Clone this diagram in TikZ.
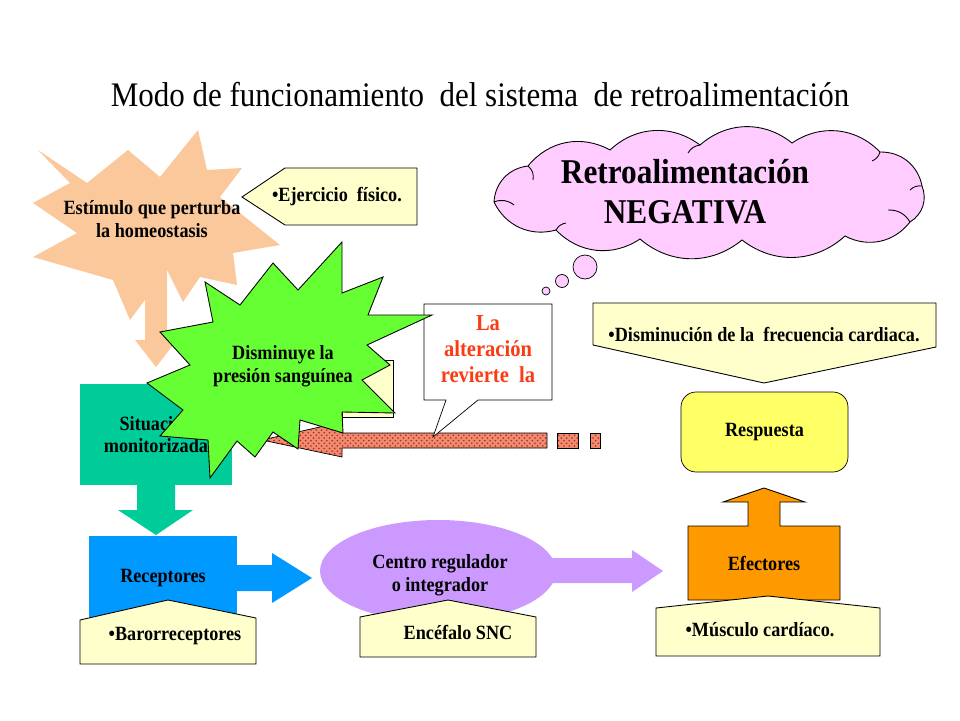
\documentclass[tikz,border=0pt]{standalone}
\usepackage{fontspec}
\setmainfont{Liberation Serif}[FakeStretch=0.9]
\usepackage{tikz}
\usetikzlibrary{positioning}
\usetikzlibrary{shapes.geometric}
\usetikzlibrary{patterns}

\definecolor{peach}{RGB}{250,200,155}
\definecolor{paleyellow}{RGB}{255,255,204}
\definecolor{monitteal}{RGB}{0,204,153}
\definecolor{recblue}{RGB}{0,153,255}
\definecolor{centrolila}{RGB}{204,153,255}
\definecolor{efecorange}{RGB}{255,153,0}
\definecolor{respyellow}{RGB}{255,255,102}
\definecolor{bumpgreen}{RGB}{102,255,51}
\definecolor{cloudpink}{RGB}{255,204,255}
\definecolor{alertred}{RGB}{250,60,20}
\definecolor{dotred}{RGB}{195,35,10}
\definecolor{dotbg}{RGB}{235,140,115}

\begin{document}
\begin{tikzpicture}[x=0.02cm, y=-0.02cm,
    smalltxt/.style={font=\fontsize{11.5}{13}\selectfont\bfseries, align=center, inner sep=0pt},
    infobox/.style={draw, fill=paleyellow, line width=0.5pt},
    dotted arrow/.style={draw, preaction={fill=dotbg}, pattern=crosshatch dots, pattern color=dotred},
    puff/.style={bend left=40},
    block/.style={inner sep=0pt, align=center, font=\fontsize{11.5}{13}\selectfont\bfseries}]

    \useasboundingbox[fill=white] (0,0) rectangle (960,720);

    \node[font=\fontsize{19.6}{22}\selectfont] (titulo) at (480,95)
        {Modo de funcionamiento\ \ del sistema\ \ de retroalimentación};

    % nube
    \draw[fill=cloudpink, line width=0.5pt] (494,202) to[puff] (528,166) to[puff] (610,150)
        to[puff] (700,145) to[puff] (792,143) to[puff] (880,152) to[puff] (922,186)
        to[puff] (910,222) to[puff] (845,236) to[puff] (742,240) to[puff] (640,239)
        to[puff] (556,230) to[puff] (494,202);
    \draw[line width=0.5pt] (528,166) to[bend left=30] (533,180);
    \draw[line width=0.5pt] (494,202) to[bend left=30] (514,205);
    \draw[line width=0.5pt] (556,230) to[bend left=25] (566,223);
    \draw[line width=0.5pt] (910,222) to[bend right=30] (888,210);
    \draw[line width=0.5pt] (922,186) to[bend right=25] (910,190);
    \draw[line width=0.5pt] (880,152) to[bend left=25] (872,161);
    \draw[line width=0.5pt] (700,145) to[bend right=25] (688,153);
    \node[font=\fontsize{19.8}{22.7}\selectfont\bfseries, align=center] (negativa)
        at (685,192) {Retroalimentación\\NEGATIVA};
    \draw[fill=cloudpink] (585,267) circle (12);
    \draw[fill=cloudpink] (562,281) circle (6.5);
    \draw[fill=cloudpink] (546,291) circle (4);

    % estimulo
    \fill[peach] (38,150) -- (87,183) -- (128,150) -- (160,177) -- (198,130) -- (207,170)
        -- (242,168) -- (220,197) -- (280,245) -- (233,253) -- (237,285) -- (200,277)
        -- (183,302) -- (167,270) -- (130,320) -- (113,280) -- (33,257) -- (77,233)
        -- (33,203) -- (70,183) -- cycle;
    \fill[peach] (145,255) -- (167,255) -- (167,340) -- (177,340) -- (156,367)
        -- (135,340) -- (145,340) -- cycle;
    \node[smalltxt] (estimulo) at (152,219) {Estímulo que perturba\\la homeostasis};

    \draw[infobox] (242,197) -- (285,168) -- (417,168) -- (417,225) -- (285,225) -- cycle;
    \node[smalltxt] (ejercicio) at (337,197) {•Ejercicio\ \ físico.};

    % situacion y receptores
    \node[block, fill=monitteal, minimum width=3.04cm, minimum height=2.02cm]
        (situacion) at (156,434.5) {Situación\\monitorizada};
    \fill[monitteal] (137,485) -- (175,485) -- (175,510) -- (193,510) -- (156,535)
        -- (118,510) -- (137,510) -- cycle;

    \node[block, fill=recblue, minimum width=2.96cm, minimum height=1.68cm]
        (receptores) at (163,578) {Receptores};
    \fill[recblue] (237,565) -- (272,565) -- (272,553) -- (312,578) -- (272,603)
        -- (272,591) -- (237,591) -- cycle;
    \draw[infobox] (80,620) -- (168,600) -- (256,618) -- (256,664) -- (80,664) -- cycle;
    \node[smalltxt] (baro) at (175,636) {•Barorreceptores};

    % centro regulador
    \fill[centrolila] (540,558) -- (632,558) -- (632,550) -- (663,571) -- (632,592)
        -- (632,583) -- (540,583) -- cycle;
    \node[ellipse, fill=centrolila, minimum width=4.72cm, minimum height=2.04cm,
        block] (centro) at (438,571) {};
    \node[smalltxt] (centrotxt) at (440,575) {Centro regulador\\o integrador};
    \draw[infobox] (360,617) -- (448,600) -- (536,617) -- (536,657) -- (360,657) -- cycle;
    \node[smalltxt] (snc) at (458,632) {Encéfalo SNC};

    % efectores y respuesta
    \draw[fill=efecorange, line width=0.5pt] (688,600) -- (688,526) -- (748,526) -- (748,502)
        -- (723,502) -- (764,488) -- (805,502) -- (780,502) -- (780,526) -- (840,526)
        -- (840,600) -- cycle;
    \node[smalltxt] (efectores) at (764,563) {Efectores};
    \draw[infobox] (656,608) -- (768,596) -- (880,608) -- (880,656) -- (656,656) -- cycle;
    \node[smalltxt] (musculo) at (760,630) {•Músculo cardíaco.};

    \node[block, draw, fill=respyellow, rounded corners=0.3cm, minimum width=3.34cm,
        minimum height=1.6cm] (respuesta) at (764.5,432) {Respuesta};
    \draw[infobox] (593,303) -- (936,303) -- (936,347) -- (764,383) -- (593,345) -- cycle;
    \node[smalltxt] (disminucion) at (764,335) {•Disminución de la\ \ frecuencia cardiaca.};

    % flecha de vuelta
    \draw[infobox] (342,360) rectangle (393,417);
    \path[dotted arrow] (262,440) -- (342,422) -- (342,433) -- (547,433) -- (547,448)
        -- (342,448) -- (342,457) -- cycle;
    \path[dotted arrow] (557,433) rectangle (578,448);
    \path[dotted arrow] (590,433) rectangle (600,448);

    \draw[fill=white] (424,304) -- (552,304) -- (552,400) -- (478,400) -- (433,437)
        -- (446,400) -- (424,400) -- cycle;
    \node[font=\fontsize{13}{14.7}\selectfont\bfseries, text=alertred, align=center]
        (alteracion) at (488,349) {La\\alteración\\revierte\ \ la};

    % disminuye
    \draw[fill=bumpgreen, line width=0.5pt] (205,282) -- (240,305) -- (273,263) -- (298,290)
        -- (342,242) -- (342,293) -- (383,277) -- (368,315) -- (432,315) -- (367,345)
        -- (390,365) -- (362,380) -- (395,413) -- (342,412) -- (343,433) -- (300,420)
        -- (298,449) -- (273,432) -- (255,457) -- (237,441) -- (210,478) -- (208,440)
        -- (160,436) -- (183,410) -- (147,383) -- (190,365) -- (160,332) -- (213,322)
        -- cycle;
    \node[smalltxt] (disminuye) at (283,366) {Disminuye la\\presión sanguínea};
\end{tikzpicture}
\end{document}
